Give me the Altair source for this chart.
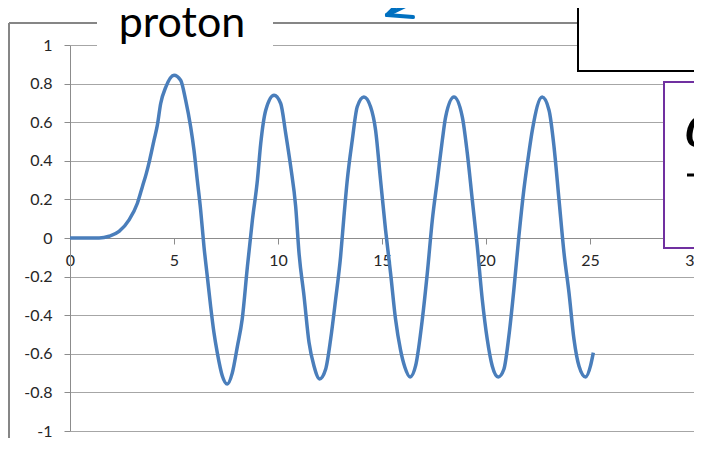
import altair as alt
import pandas as pd

# curve
xs = [0.0, 0.5, 1.0, 1.4, 1.88, 2.36, 2.84, 3.24, 3.48, 3.67, 3.83, 4.04, 4.2, 4.36, 4.6, 5.0,
      5.32, 5.56, 5.8, 5.96, 6.12, 6.28, 6.44, 6.6, 6.76, 6.92, 7.08, 7.32, 7.56, 7.8, 8.05,
      8.28, 8.53, 8.77, 9.01, 9.17, 9.41, 9.81, 10.13, 10.37, 10.61, 10.85, 11.01, 11.25,
      11.49, 11.73, 12.0, 12.29, 12.53, 12.77, 13.01, 13.17, 13.33, 13.57, 13.81, 14.13,
      14.45, 14.69, 14.93, 15.17, 15.41, 15.65, 15.89, 16.1, 16.35, 16.62, 16.94, 17.18,
      17.42, 17.66, 17.9, 18.06, 18.46, 18.86, 19.1, 19.34, 19.58, 19.82, 20.06, 20.3,
      20.59, 20.86, 21.1, 21.34, 21.58, 21.82, 22.06, 22.23, 22.7, 23.03, 23.27, 23.51,
      23.75, 23.99, 24.23, 24.47, 24.79, 25.03, 25.16]
ys = [0.0, 0.0, 0.0, 0.0, 0.009, 0.034, 0.094, 0.18, 0.266, 0.335, 0.404, 0.507, 0.585, 0.697, 0.78, 0.843,
      0.817, 0.714, 0.576, 0.456, 0.30, 0.146, -0.043, -0.198, -0.353, -0.49, -0.594, -0.714, -0.757, -0.70, -0.56,
      -0.42, -0.147, 0.094, 0.30, 0.49, 0.662, 0.74, 0.697, 0.542, 0.37, 0.163, -0.077, -0.30,
      -0.54, -0.663, -0.73, -0.68, -0.525, -0.318, -0.095, 0.111, 0.30, 0.507, 0.68, 0.73,
      0.68, 0.56, 0.30, 0.043, -0.18, -0.42, -0.58, -0.67, -0.72, -0.66, -0.42, -0.18,
      0.094, 0.30, 0.507, 0.628, 0.73, 0.628, 0.44, 0.198, -0.043, -0.318, -0.525, -0.663,
      -0.72, -0.68, -0.508, -0.267, 0.008, 0.25, 0.44, 0.56, 0.73, 0.662, 0.473, 0.198,
      -0.077, -0.284, -0.525, -0.663, -0.72, -0.66, -0.594]

x_ticks = [0, 5, 10, 15, 20, 25, 30]
y_ticks = [-1, -0.8, -0.6, -0.4, -0.2, 0, 0.2, 0.4, 0.6, 0.8, 1]
title_text = "proton"

df = pd.DataFrame({"x": xs, "y": ys})

FONT = "Lato"
GRID = "#A6A6A6"
AXIS = "#8C8C8C"
LABEL = "#262626"

line = alt.Chart(df).mark_line(color="#4A7EBB", strokeWidth=3.5, interpolate="monotone").encode(
    x=alt.X("x:Q", title="", scale=alt.Scale(domain=[0, 30], nice=False),
            axis=alt.Axis(values=x_ticks, offset=-193, tickSize=6, grid=False,
                          domainColor=AXIS, tickColor=AXIS, labelFont=FONT, labelFontSize=16,
                          labelColor=LABEL, labelPadding=8, labelFlush=False)),
    y=alt.Y("y:Q", title="", scale=alt.Scale(domain=[-1, 1], nice=False),
            axis=alt.Axis(values=y_ticks, tickSize=6, grid=True, gridColor=GRID,
                          domainColor=AXIS, tickColor=AXIS, labelFont=FONT, labelFontSize=16,
                          labelColor=LABEL, labelPadding=12,
                          labelExpr="toString(round(datum.value*10)/10)")),
)

one = alt.Data(values=[{}])


def seg(x1, y1, x2, y2, color, w):
    return alt.Chart(one).mark_rule(color=color, strokeWidth=w, strokeCap="round").encode(
        x=alt.value(x1), y=alt.value(y1), x2=alt.value(x2), y2=alt.value(y2))


def box(x1, y1, x2, y2, stroke, w):
    return alt.Chart(one).mark_rect(fill="white", stroke=stroke, strokeWidth=w).encode(
        x=alt.value(x1), y=alt.value(y1), x2=alt.value(x2), y2=alt.value(y2))


# chart-area border (left and top, broken by the title)
border_left = alt.Chart(one).mark_rule(color="#868686", strokeWidth=2).encode(
    x=alt.value(-61), y=alt.value(-22), y2=alt.value(420))
border_top1 = alt.Chart(one).mark_rule(color="#868686", strokeWidth=2).encode(
    x=alt.value(-61), x2=alt.value(27), y=alt.value(-22))
border_top2 = alt.Chart(one).mark_rule(color="#868686", strokeWidth=2).encode(
    x=alt.value(203), x2=alt.value(560), y=alt.value(-22))
title_bg = alt.Chart(one).mark_rect(fill="white").encode(
    x=alt.value(27), x2=alt.value(203), y=alt.value(-30), y2=alt.value(4))
title = alt.Chart(one).mark_text(text=title_text, font=FONT, fontSize=43, color="black",
                                 align="center", baseline="alphabetic").encode(
    x=alt.value(112), y=alt.value(-8))

# overlaid annotations
black_box = box(508, -60, 720, 26, "black", 2)
purple_box = box(594, 37, 720, 203, "#7030A0", 2)
alpha = alt.Chart(one).mark_text(text="α", font="DejaVu Serif", fontStyle="italic", fontSize=58,
                                 color="black", align="left", baseline="alphabetic").encode(
    x=alt.value(614), y=alt.value(101))
frac_bar = alt.Chart(one).mark_rule(color="black", strokeWidth=3).encode(
    x=alt.value(617), x2=alt.value(660), y=alt.value(130))
arrow_shaft = seg(317, -30, 362, -52, "#0070C0", 4)
arrow_w1 = seg(317, -30, 343, -28, "#0070C0", 4)
arrow_w2 = seg(317, -30, 331, -44, "#0070C0", 4)

chart = alt.layer(
    line, border_left, border_top1, border_top2, title_bg, title,
    black_box, purple_box, alpha, frac_bar, arrow_shaft, arrow_w1, arrow_w2
).properties(
    width=624, height=386,
    autosize=alt.AutoSizeParams(type="none"),
    padding={"left": 62, "top": 37, "right": 0, "bottom": 7},
    background="white",
).configure_view(strokeWidth=0)

chart.save("out.html", embed_options={"renderer": "svg", "actions": False})
